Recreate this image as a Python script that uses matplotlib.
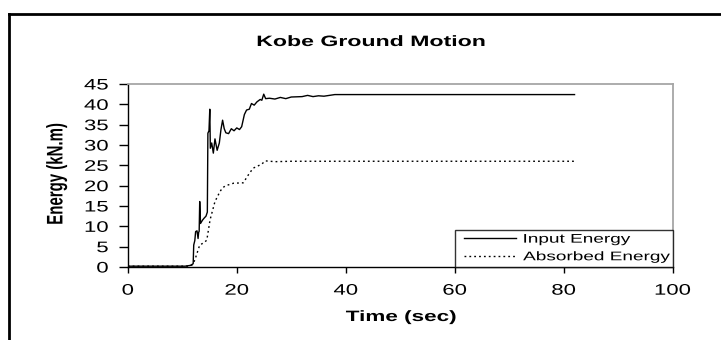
import matplotlib
matplotlib.use("Agg")
from matplotlib import pyplot as plt
from matplotlib.lines import Line2D
from matplotlib.legend_handler import HandlerLine2D
from matplotlib.patheffects import AbstractPathEffect
from matplotlib.transforms import Affine2D

plt.rcParams['font.family'] = ['Liberation Sans', 'DejaVu Sans']

# Input energy (kN.m) vs time (sec)
time_input = [0, 10.5, 11.5, 12.0, 12.1, 12.3, 12.45, 12.7, 12.9, 13.0, 13.1, 13.2,
              13.35, 13.7, 14.0, 14.35, 14.6, 14.7, 14.9, 15.05, 15.15, 15.4, 15.7,
              16.0, 16.4, 16.8, 17.1, 17.4, 17.7, 18.0, 18.5, 19.0, 19.5, 20.0, 20.5,
              20.9, 21.4, 21.8, 22.3, 22.7, 23.2, 23.7, 24.3, 24.6, 24.95, 25.3, 26.0,
              27.0, 28.0, 29.0, 30.0, 32.0, 33.0, 34.0, 35.0, 36.0, 38.0, 82.0]
input_energy = [0.2, 0.2, 0.4, 0.8, 5.4, 6.5, 8.7, 8.9, 7.0, 8.5, 8.8, 16.1,
                10.7, 11.5, 12.0, 12.5, 13.5, 32.9, 33.5, 38.8, 29.2, 30.5, 28.0,
                31.5, 28.7, 30.5, 33.8, 36.1, 34.0, 33.0, 32.8, 34.0, 33.5, 34.2, 33.8,
                34.5, 37.5, 38.6, 38.8, 40.2, 39.8, 40.6, 41.2, 41.0, 42.5, 41.4, 41.5,
                41.3, 41.7, 41.4, 41.8, 41.9, 42.2, 41.9, 42.1, 42.0, 42.4, 42.4]

# Absorbed energy (kN.m)
time_absorbed = [0, 11.0, 11.8, 12.3, 13.2, 14.0, 14.5, 15.1, 16.0, 16.9, 17.4, 18.0,
                 19.4, 21.2, 22.1, 23.0, 24.6, 25.2, 27.0, 30.0, 82.0]
absorbed_energy = [0.2, 0.2, 0.5, 1.7, 5.4, 6.0, 6.6, 11.6, 16.1, 18.5, 19.5, 20.0,
                   20.6, 20.7, 22.6, 24.3, 25.3, 26.1, 25.9, 26.0, 26.0]

x_ticks = [0, 20, 40, 60, 80, 100]
y_ticks = [0, 5, 10, 15, 20, 25, 30, 35, 40, 45]


class Stretch(AbstractPathEffect):
    # the original chart was stretched sideways, text included
    def __init__(self, sx=1.5, anchor="center"):
        super().__init__()
        self.sx = sx
        self.anchor = anchor

    def draw_path(self, renderer, gc, tpath, affine, rgbFace=None):
        ext = tpath.get_extents(affine)
        if self.anchor == "left":
            x0 = ext.x0
        elif self.anchor == "right":
            x0 = ext.x1
        else:
            x0 = (ext.x0 + ext.x1) / 2
        t = affine + Affine2D().translate(-x0, 0).scale(self.sx, 1).translate(x0, 0)
        renderer.draw_path(gc, tpath, t, rgbFace)


W, H = 721, 340
fig = plt.figure(figsize=(W / 100, H / 100), dpi=100)
ax = fig.add_axes([127.8 / W, 1 - 267 / H, (672.6 - 127.8) / W, (267 - 84) / H])

ax.plot(time_input, input_energy, color="black", lw=1.0, label="Input Energy")
ax.plot(time_absorbed, absorbed_energy, color="black", lw=1.0,
        linestyle=(0, (1.3, 2.2)), label="Absorbed Energy")

ax.set_xlim(0, 100)
ax.set_ylim(0, 45)
ax.set_xticks(x_ticks)
ax.set_yticks(y_ticks)
ax.tick_params(axis="x", direction="out", length=4.5, width=1, pad=7.5, labelsize=11)
ax.tick_params(axis="y", direction="out", length=6.5, width=1, pad=7.5, labelsize=11)

for side in ["left", "bottom"]:
    ax.spines[side].set_color("black")
    ax.spines[side].set_linewidth(1.0)
for side in ["top", "right"]:
    ax.spines[side].set_color("#a6a6a6")
    ax.spines[side].set_linewidth(1.3)

for lbl in ax.get_xticklabels():
    lbl.set_path_effects([Stretch(1.45, "center")])
for lbl in ax.get_yticklabels():
    lbl.set_path_effects([Stretch(1.45, "right")])

leg_x0 = (455 - 127.8) / (672.6 - 127.8)
leg = ax.legend(loc="lower right", bbox_to_anchor=(leg_x0, 0, 1 - leg_x0, 0.3),
                mode="expand", borderaxespad=0, fontsize=9, frameon=True,
                fancybox=False, handlelength=4.6, handletextpad=0.55,
                borderpad=0.3, labelspacing=0.45,
                handler_map={Line2D: HandlerLine2D(xpad=0.4)})
leg.get_frame().set_edgecolor("black")
leg.get_frame().set_linewidth(1.0)
for txt in leg.get_texts():
    txt.set_path_effects([Stretch(1.52, "left")])

fig.text(371 / W, 1 - 42 / H, "Kobe Ground Motion", ha="center", va="center",
         fontsize=10.8, fontweight="bold", path_effects=[Stretch(1.54)])
fig.text(401 / W, 1 - 317 / H, "Time (sec)", ha="center", va="center",
         fontsize=10.8, fontweight="bold", path_effects=[Stretch(1.5)])
fig.text(56.5 / W, 1 - 174 / H, "Energy (kN.m)", ha="center", va="center",
         rotation=90, fontsize=10.8, fontweight="bold", path_effects=[Stretch(1.5)])

# outer border of the chart area
fig.add_artist(Line2D([9 / W, 9 / W], [0, 1 - 14 / H], color="black", lw=2,
                      transform=fig.transFigure))
fig.add_artist(Line2D([9 / W, 1], [1 - 14 / H, 1 - 14 / H], color="black", lw=2,
                      transform=fig.transFigure))

plt.savefig("out.png", dpi=100)
